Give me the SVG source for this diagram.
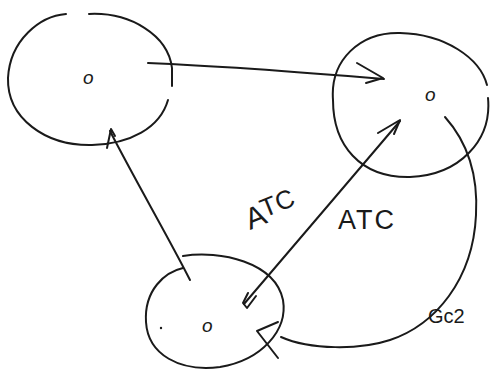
<svg xmlns="http://www.w3.org/2000/svg" width="491" height="373" viewBox="0 0 491 373">
<style>
.s{fill:none;stroke:#1a1a1a;stroke-width:2;stroke-linecap:round;stroke-linejoin:round}
.t{font-family:"Liberation Sans",Arial,sans-serif;fill:#1a1a1a}
.d{font-family:"Liberation Sans",Arial,sans-serif;fill:#1a1a1a;font-size:19px;font-style:italic}
</style>
<rect width="491" height="373" fill="#ffffff"/>
<g id="node-a">
<path class="s" d="M66 14 C40 16 10 40 8 78 C7 118 45 146 92 145 C130 144 160 128 168 100"/>
<path class="s" d="M89 14 C130 12 168 35 172 68 L172 86"/>
<text class="d" x="83" y="84">o</text>
</g>
<g id="node-b">
<path class="s" d="M333 100 C330 60 360 32 400 33 C445 34 480 58 487 85 M488 98 C492 140 460 175 410 177 C360 178 333 145 333 100"/>
<text class="d" x="425" y="101">o</text>
</g>
<g id="node-c">
<path class="s" d="M183 256 C220 250 275 262 283 300 C288 330 262 360 220 367 C180 372 148 355 146 322 C144 290 165 272 183 268"/>
<circle cx="161" cy="328" r="1.2" fill="#1a1a1a"/>
<text class="d" x="202" y="332">o</text>
</g>
<g id="connectors">
<path class="s" d="M148 63 C220 66 300 72 384 79"/>
<path class="s" d="M357 63 L383 78 L366 83"/>
<path class="s" d="M190 280 C170 240 135 180 110 131"/>
<path class="s" d="M107 148 L111 129 L115 136"/>
<path class="s" d="M244 304 C290 250 350 180 400 121"/>
<path class="s" d="M378 133 L400 120 L394 134"/>
<path class="s" d="M248 293 L243 303 L247 308 L256 296"/>
<path class="s" d="M445 117 C470 145 478 180 476 215 C473 280 435 325 390 340 C360 350 310 350 281 337"/>
<path class="s" d="M278 322 L257 331 L278 358"/>
<text class="t" font-size="30" transform="translate(250 230) rotate(-22)">A<tspan font-size="26" dx="-2" dy="-6">TC</tspan></text>
<text class="t" font-size="27" x="338" y="229" letter-spacing="2">ATC</text>
<text class="t" font-size="20" x="428" y="323">Gc2</text>
</g>
</svg>
